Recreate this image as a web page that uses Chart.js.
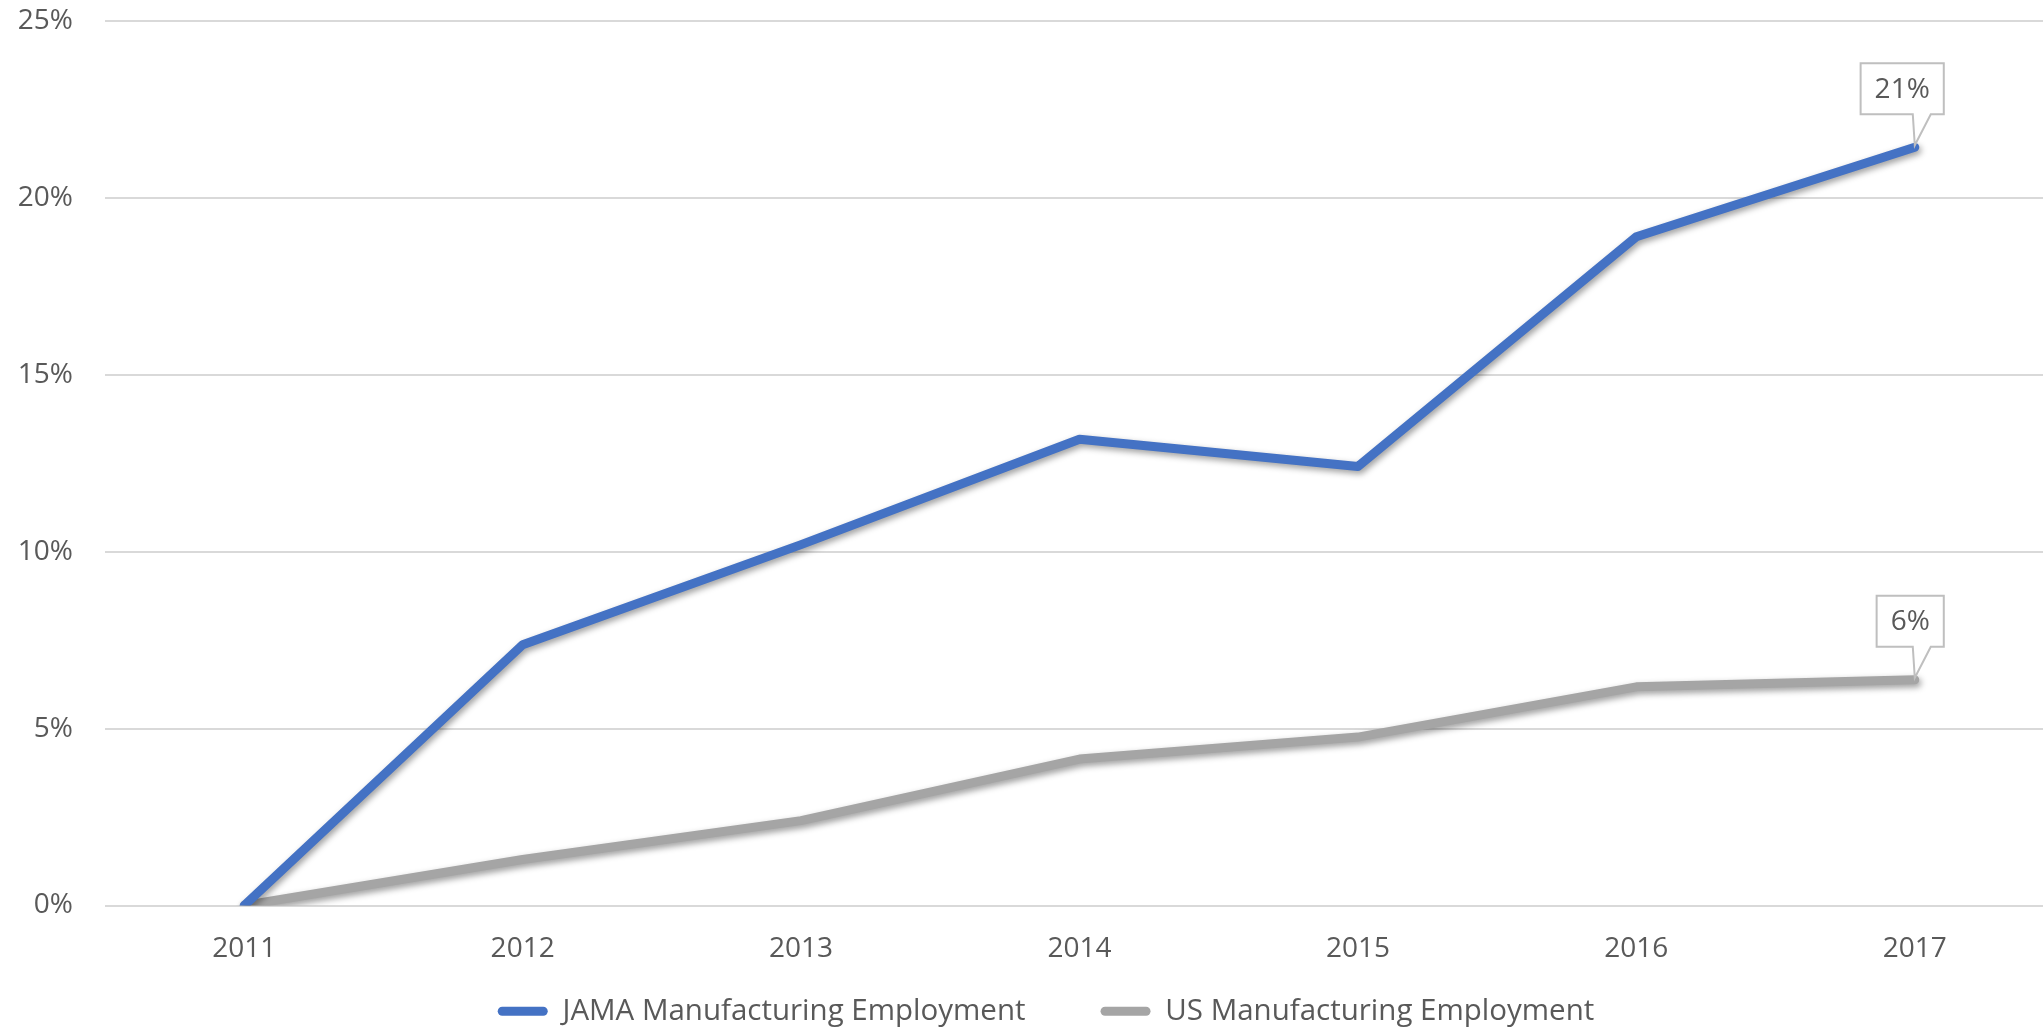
<!DOCTYPE html>
<html>
<head>
<meta charset="utf-8">
<script src="https://cdn.jsdelivr.net/npm/chart.js@4/dist/chart.umd.min.js"></script>
<style>
  html, body { margin: 0; padding: 0; background: #fff; overflow: hidden; }
  #wrap { position: relative; width: 2060px; height: 1031px; }
</style>
</head>
<body>
<div id="wrap"><canvas id="c"></canvas></div>
<script>
const years = ['2011', '2012', '2013', '2014', '2015', '2016', '2017'];
const jamaValues = [0, 7.37, 10.2, 13.18, 12.41, 18.9, 21.43];
const usValues = [0, 1.30, 2.40, 4.14, 4.76, 6.18, 6.38];
const seriesNames = ['JAMA Manufacturing Employment', 'US Manufacturing Employment'];
const yTicks = [0, 5, 10, 15, 20, 25];

const FONT = "'Open Sans', 'Liberation Sans', sans-serif";
const TEXT = '#595959';

const shadowPlugin = {
  id: 'shadow',
  beforeDatasetDraw(chart) {
    const ctx = chart.ctx;
    ctx.save();
    ctx.shadowColor = 'rgba(0,0,0,0.38)';
    ctx.shadowBlur = 6;
    ctx.shadowOffsetX = 2;
    ctx.shadowOffsetY = 3;
  },
  afterDatasetDraw(chart) {
    chart.ctx.restore();
  }
};

const layoutTweak = {
  id: 'layoutTweak',
  afterLayout(chart) {
    if (chart.legend) {
      chart.legend.left += 19;
      chart.legend.right += 19;
    }
    const x = chart.scales.x;
    if (x) {
      x.bottom = x.top + 80;
    }
  }
};

const calloutPlugin = {
  id: 'callout',
  afterDatasetsDraw(chart) {
    const ctx = chart.ctx;
    chart.data.datasets.forEach((ds, i) => {
      const meta = chart.getDatasetMeta(i);
      const last = meta.data.length - 1;
      const pt = meta.data[last];
      const px = pt.x, py = pt.y;
      const label = Math.round(ds.data[last]) + '%';
      ctx.save();
      ctx.font = "28px " + FONT;
      const tw = ctx.measureText(label).width;
      const right = px + 29;
      const left = right - (tw + 28);
      const bottom = py - 33;
      const top = bottom - 51;
      ctx.beginPath();
      ctx.moveTo(left, top);
      ctx.lineTo(right, top);
      ctx.lineTo(right, bottom);
      ctx.lineTo(px + 16, bottom);
      ctx.lineTo(px, py - 2);
      ctx.lineTo(px - 2, bottom);
      ctx.lineTo(left, bottom);
      ctx.closePath();
      ctx.fillStyle = '#ffffff';
      ctx.fill();
      ctx.strokeStyle = '#BFBFBF';
      ctx.lineWidth = 2;
      ctx.stroke();
      ctx.fillStyle = TEXT;
      ctx.textAlign = 'center';
      ctx.textBaseline = 'middle';
      ctx.fillText(label, (left + right) / 2, (top + bottom) / 2 + 1);
      ctx.restore();
    });
  }
};

new Chart(document.getElementById('c'), {
  type: 'line',
  data: {
    labels: years,
    datasets: [
      {
        label: seriesNames[0],
        data: jamaValues,
        borderColor: '#4472C4',
        backgroundColor: '#4472C4',
        borderWidth: 9,
        pointRadius: 0,
        tension: 0,
        borderCapStyle: 'round',
        borderJoinStyle: 'round',
        fill: false
      },
      {
        label: seriesNames[1],
        data: usValues,
        borderColor: '#A5A5A5',
        backgroundColor: '#A5A5A5',
        borderWidth: 9,
        pointRadius: 0,
        tension: 0,
        borderCapStyle: 'round',
        borderJoinStyle: 'round',
        fill: false
      }
    ]
  },
  options: {
    responsive: true,
    maintainAspectRatio: false,
    animation: false,
    layout: { padding: { top: 21, right: 6, left: 0, bottom: -5 } },
    plugins: {
      legend: {
        position: 'bottom',
        labels: {
          font: { family: FONT, size: 29.5 },
          color: TEXT,
          boxWidth: 50,
          boxHeight: 9,
          useBorderRadius: true,
          borderRadius: 4.5,
          padding: 75,
          generateLabels(chart) {
            return chart.data.datasets.map((ds, i) => ({
              text: ds.label,
              fillStyle: ds.borderColor,
              strokeStyle: ds.borderColor,
              lineWidth: 0,
              fontColor: TEXT,
              borderRadius: 4.5,
              datasetIndex: i,
              hidden: false
            }));
          }
        }
      },
      tooltip: { enabled: false }
    },
    scales: {
      x: {
        type: 'category',
        offset: true,
        grid: { display: false, drawTicks: false },
        border: { display: false },
        afterFit(scale) { scale.height = 16; },
        ticks: {
          font: { family: FONT, size: 28 },
          color: TEXT,
          padding: 27,
          maxRotation: 0,
          autoSkip: false
        }
      },
      y: {
        min: 0,
        max: 25,
        afterBuildTicks(scale) {
          scale.ticks = yTicks.map(v => ({ value: v }));
        },
        afterFit(scale) {
          scale.width = 105;
          scale.paddingTop = 0;
          scale.paddingBottom = 0;
        },
        grid: { color: '#D9D9D9', lineWidth: 2, drawTicks: false },
        border: { display: false },
        ticks: {
          font: { family: FONT, size: 28 },
          color: TEXT,
          padding: 32,
          callback: v => v + '%'
        }
      }
    }
  },
  plugins: [shadowPlugin, calloutPlugin, layoutTweak]
});
</script>
</body>
</html>
